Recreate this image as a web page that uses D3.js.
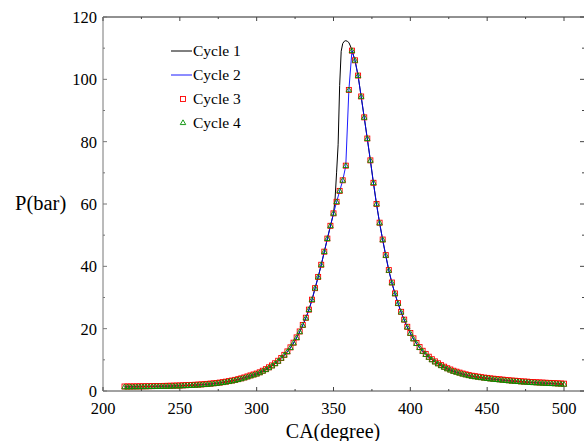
<!DOCTYPE html>
<html><head><meta charset="utf-8">
<script src="https://cdn.jsdelivr.net/npm/d3@7"></script>
<style>html,body{margin:0;padding:0;background:#fff;}svg{display:block;}</style>
</head><body>
<svg id="chart" width="584" height="441"></svg>
<script>
// ---------- data ----------
const caGrid = [214,216,218,220,222,224,226,228,230,232,234,236,238,240,242,244,246,248,250,
252,254,256,258,260,262,264,266,268,270,272,274,276,278,280,282,284,286,288,290,292,294,296,298,300,
302,304,306,308,310,312,314,316,318,320,322,324,326,328,330,332,334,336,338,340,342,344,346,348,350,352,354,356,358,
360,362,364,366,368,370,372,374,376,378,380,382,384,386,388,390,392,394,396,398,400,
402,404,406,408,410,412,414,416,418,420,422,424,426,428,430,432,434,436,438,440,442,444,446,448,450,
452,454,456,458,460,462,464,466,468,470,472,474,476,478,480,482,484,486,488,490,492,494,496,498,500];

const cycle3 = [1.45,1.45,1.46,1.47,1.48,1.5,1.51,1.52,1.54,1.56,1.58,1.6,1.62,1.64,1.66,1.69,1.72,1.75,1.78,
1.82,1.86,1.9,1.95,2.0,2.06,2.12,2.2,2.28,2.37,2.47,2.58,2.7,2.84,3.0,3.17,3.36,3.57,3.8,4.06,4.35,4.67,5.0,5.3,5.6,
6.0,6.5,7.0,7.6,8.2,8.9,9.7,10.6,11.6,12.7,14.0,15.5,17.2,19.1,21.2,23.5,26.1,29.3,33.0,36.6,40.5,44.7,48.9,53.0,57.0,60.7,64.2,67.6,72.3,
96.6,109.2,106.1,101.2,94.5,87.8,81.0,74.0,66.8,60.0,54.0,48.6,43.6,38.8,34.8,31.3,28.2,25.4,22.9,20.6,18.6,
16.9,15.4,14.1,12.9,11.9,11.0,10.2,9.5,8.9,8.3,7.8,7.3,6.9,6.5,6.2,5.9,5.6,5.35,5.1,4.9,4.75,4.6,4.45,4.3,4.2,
4.05,3.95,3.85,3.75,3.65,3.55,3.45,3.35,3.3,3.2,3.1,3.05,3.0,2.9,2.85,2.8,2.75,2.7,2.65,2.6,2.55,2.5,2.45,2.4,2.35];

const cycle4 = [1.2,1.2,1.21,1.22,1.23,1.25,1.26,1.27,1.29,1.31,1.33,1.35,1.37,1.39,1.41,1.44,1.47,1.5,1.53,
1.57,1.61,1.65,1.7,1.75,1.81,1.87,1.95,2.03,2.12,2.22,2.33,2.45,2.59,2.75,2.92,3.11,3.32,3.55,3.81,4.1,4.42,4.75,5.05,5.35,
5.75,6.25,6.75,7.35,7.95,8.65,9.45,10.4,11.4,12.5,13.8,15.3,17.0,18.9,21.0,23.3,26.0,29.2,32.9,36.5,40.4,44.6,48.8,52.9,56.9,60.6,64.1,67.5,72.2,
96.5,109.1,106.0,101.1,94.4,87.7,80.9,73.9,66.7,59.9,53.8,48.4,43.4,38.6,34.6,31.1,28.0,25.2,22.7,20.4,18.4,
16.6,15.1,13.8,12.6,11.6,10.7,9.9,9.2,8.6,8.0,7.5,7.0,6.6,6.2,5.9,5.6,5.3,5.05,4.8,4.6,4.45,4.3,4.15,4.0,3.9,
3.75,3.65,3.55,3.45,3.35,3.25,3.15,3.05,3.0,2.9,2.8,2.75,2.7,2.6,2.55,2.5,2.45,2.4,2.35,2.3,2.25,2.2,2.15,2.1,2.05];

const cycle2 = [1.35,1.35,1.36,1.37,1.38,1.4,1.41,1.42,1.44,1.46,1.48,1.5,1.52,1.54,1.56,1.59,1.62,1.65,1.68,
1.72,1.76,1.8,1.85,1.9,1.96,2.02,2.1,2.18,2.27,2.37,2.48,2.6,2.74,2.9,3.07,3.26,3.47,3.7,3.96,4.25,4.57,4.9,5.2,5.5,
5.9,6.4,6.9,7.5,8.1,8.8,9.6,10.5,11.5,12.6,13.9,15.4,17.1,19.0,21.1,23.4,26.05,29.25,32.95,36.55,40.45,44.65,48.85,52.95,56.95,60.65,64.15,67.55,72.25,
96.55,109.15,106.05,101.15,94.45,87.75,80.95,73.95,66.75,59.95,53.9,48.5,43.5,38.7,34.7,31.2,28.1,25.3,22.8,20.5,18.5,
16.75,15.25,13.95,12.75,11.75,10.85,10.05,9.35,8.75,8.15,7.65,7.15,6.75,6.35,6.05,5.75,5.45,5.2,4.95,4.75,4.6,4.45,4.3,4.15,4.05,
3.9,3.8,3.7,3.6,3.5,3.4,3.3,3.2,3.15,3.05,2.95,2.9,2.85,2.75,2.7,2.65,2.6,2.55,2.5,2.45,2.4,2.35,2.3,2.25,2.2];

const cycle1CA = [214,216,218,220,222,224,226,228,230,232,234,236,238,240,242,244,246,248,250,
252,254,256,258,260,262,264,266,268,270,272,274,276,278,280,282,284,286,288,290,292,294,296,298,300,
302,304,306,308,310,312,314,316,318,320,322,324,326,328,330,332,334,336,338,340,342,344,346,348,350,
351,352,353,354,355,356,357,358,359,360,361,362,
364,366,368,370,372,374,376,378,380,382,384,386,388,390,392,394,396,398,400,
402,404,406,408,410,412,414,416,418,420,422,424,426,428,430,432,434,436,438,440,442,444,446,448,450,
452,454,456,458,460,462,464,466,468,470,472,474,476,478,480,482,484,486,488,490,492,494,496,498,500];

const cycle1 = [1.35,1.35,1.36,1.37,1.38,1.4,1.41,1.42,1.44,1.46,1.48,1.5,1.52,1.54,1.56,1.59,1.62,1.65,1.68,
1.72,1.76,1.8,1.85,1.9,1.96,2.02,2.1,2.18,2.27,2.37,2.48,2.6,2.74,2.9,3.07,3.26,3.47,3.7,3.96,4.25,4.57,4.9,5.2,5.5,
5.9,6.4,6.9,7.5,8.1,8.8,9.6,10.5,11.5,12.6,13.9,15.4,17.1,19.0,21.1,23.4,26.05,29.25,32.95,36.55,40.45,44.65,48.85,52.95,56.95,
61.5,70.0,79.0,98.0,109.0,111.5,112.2,112.4,112.2,111.8,110.7,109.3,
106.05,101.15,94.45,87.75,80.95,73.95,66.75,59.95,53.9,48.5,43.5,38.7,34.7,31.2,28.1,25.3,22.8,20.5,18.5,
16.75,15.25,13.95,12.75,11.75,10.85,10.05,9.35,8.75,8.15,7.65,7.15,6.75,6.35,6.05,5.75,5.45,5.2,4.95,4.75,4.6,4.45,4.3,4.15,4.05,
3.9,3.8,3.7,3.6,3.5,3.4,3.3,3.2,3.15,3.05,2.95,2.9,2.85,2.75,2.7,2.65,2.6,2.55,2.5,2.45,2.4,2.35,2.3,2.25,2.2];

const seriesNames = ["Cycle 1","Cycle 2","Cycle 3","Cycle 4"];
const xTickValues = [200,250,300,350,400,450,500];
const yTickValues = [0,20,40,60,80,100,120];
const xLabel = "CA(degree)";
const yLabel = "P(bar)";

(function () {
// ---------- layout ----------
const svg = d3.select("#chart");
const pLeft = 103, pRight = 564, pTop = 17, pBottom = 391, frameRight = 585;
const x = d3.scaleLinear().domain([200, 500]).range([pLeft, pRight]);
const y = d3.scaleLinear().domain([0, 120]).range([pBottom, pTop]);
const font = "'Liberation Serif','Times New Roman',serif";
const axisColor = "#444";

// frame
const g = svg.append("g");
g.append("line").attr("x1", pLeft).attr("x2", frameRight).attr("y1", pBottom).attr("y2", pBottom).attr("stroke", axisColor);
g.append("line").attr("x1", pLeft).attr("x2", frameRight).attr("y1", pTop).attr("y2", pTop).attr("stroke", "#222");
g.append("line").attr("x1", pLeft).attr("x2", pLeft).attr("y1", pTop).attr("y2", pBottom).attr("stroke", "#777");
g.append("line").attr("x1", frameRight - 0.5).attr("x2", frameRight - 0.5).attr("y1", pTop).attr("y2", pBottom).attr("stroke", axisColor);

// ticks (inside, all four sides)
d3.range(200, 526, 25).forEach(v => {
  const len = v % 50 === 0 ? 4 : 2;
  g.append("line").attr("x1", x(v)).attr("x2", x(v)).attr("y1", pBottom).attr("y2", pBottom - len).attr("stroke", axisColor);
  g.append("line").attr("x1", x(v)).attr("x2", x(v)).attr("y1", pTop).attr("y2", pTop + len).attr("stroke", axisColor);
});
d3.range(0, 121, 10).forEach(v => {
  const len = v % 20 === 0 ? 4 : 2;
  g.append("line").attr("x1", pLeft).attr("x2", pLeft + len).attr("y1", y(v)).attr("y2", y(v)).attr("stroke", "#777");
  g.append("line").attr("x1", frameRight - 1).attr("x2", frameRight - 1 - len).attr("y1", y(v)).attr("y2", y(v)).attr("stroke", axisColor);
});

// tick labels
g.selectAll(".xt").data(xTickValues).enter().append("text")
  .attr("x", d => x(d)).attr("y", 414).attr("text-anchor", "middle")
  .attr("font-family", font).attr("font-size", 16.5).attr("fill", "#000").text(d => d);
g.selectAll(".yt").data(yTickValues).enter().append("text")
  .attr("x", 97).attr("y", d => y(d) + 6).attr("text-anchor", "end")
  .attr("font-family", font).attr("font-size", 16.5).attr("fill", "#000").text(d => d);

// axis titles
svg.append("text").attr("x", 333).attr("y", 438).attr("text-anchor", "middle")
  .attr("font-family", font).attr("font-size", 20).attr("fill", "#000").text(xLabel);
svg.append("text").attr("x", 15).attr("y", 210).attr("text-anchor", "start")
  .attr("font-family", font).attr("font-size", 20.5).attr("fill", "#000").text(yLabel);

// ---------- series ----------
const plot = svg.append("g");
const line = d3.line().x(d => x(d[0])).y(d => y(d[1]));
const c1 = cycle1CA.map((c, i) => [c, cycle1[i]]);
const c2 = caGrid.map((c, i) => [c, cycle2[i]]);
const c3 = caGrid.map((c, i) => [c, cycle3[i]]);
const c4 = caGrid.map((c, i) => [c, cycle4[i]]);

plot.append("path").attr("d", line(c1)).attr("fill", "none").attr("stroke", "#000").attr("stroke-width", 1);
plot.append("path").attr("d", line(c2)).attr("fill", "none").attr("stroke", "#0000ff").attr("stroke-width", 0.9);

const sq = 5;
plot.selectAll(".sq").data(c3).enter().append("rect")
  .attr("x", d => x(d[0]) - sq / 2).attr("y", d => y(d[1]) - sq / 2)
  .attr("width", sq).attr("height", sq)
  .attr("fill", "none").attr("stroke", "#ff0000").attr("stroke-width", 0.9);

const tri = d3.symbol().type(d3.symbolTriangle).size(13);
plot.selectAll(".tr").data(c4).enter().append("path")
  .attr("d", tri).attr("transform", d => `translate(${x(d[0])},${y(d[1])})`)
  .attr("fill", "none").attr("stroke", "#009000").attr("stroke-width", 0.9);

// ---------- legend ----------
const lg = svg.append("g");
const rowsY = [51, 75, 99, 123];
lg.append("line").attr("x1", 171).attr("x2", 192).attr("y1", rowsY[0]).attr("y2", rowsY[0]).attr("stroke", "#000").attr("stroke-width", 1);
lg.append("line").attr("x1", 171).attr("x2", 192).attr("y1", rowsY[1]).attr("y2", rowsY[1]).attr("stroke", "#0000ff").attr("stroke-width", 0.9);
lg.append("rect").attr("x", 183 - sq / 2).attr("y", rowsY[2] - sq / 2).attr("width", sq).attr("height", sq)
  .attr("fill", "none").attr("stroke", "#ff0000").attr("stroke-width", 0.9);
lg.append("path").attr("d", tri).attr("transform", `translate(183,${rowsY[3]})`)
  .attr("fill", "none").attr("stroke", "#009000").attr("stroke-width", 0.9);
lg.selectAll(".lt").data(seriesNames).enter().append("text")
  .attr("x", 193).attr("y", (d, i) => rowsY[i] + 5)
  .attr("font-family", font).attr("font-size", 15.5).attr("fill", "#000").text(d => d);
})();
</script>
</body></html>
